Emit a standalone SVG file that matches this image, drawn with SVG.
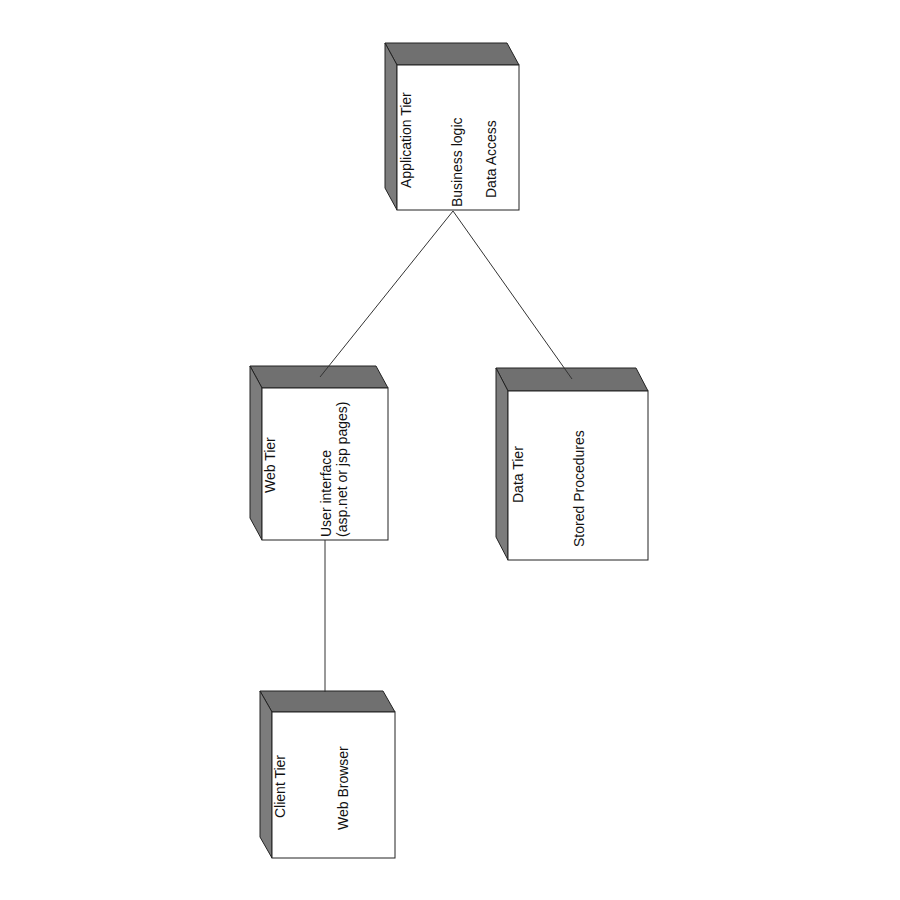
<svg xmlns="http://www.w3.org/2000/svg" width="900" height="900" viewBox="0 0 900 900">
  <style>
    .top { fill: #707070; stroke: #222; stroke-width: 1; stroke-linejoin: round; }
    .side { fill: #7c7c7c; stroke: #222; stroke-width: 1; stroke-linejoin: round; }
    .front { fill: #ffffff; stroke: #222; stroke-width: 1; }
    .lbl { font-family: "Liberation Sans", Arial, sans-serif; font-size: 14px; fill: #111; }
    .conn { stroke: #333; stroke-width: 1; fill: none; }
  </style>
  <rect width="900" height="900" fill="#ffffff"/>

  <!-- Application Tier node -->
  <g id="application-tier">
    <polygon class="top" points="385,43 507,43 519,65 397,65"/>
    <polygon class="side" points="385,43 397,65 397,210 385,188"/>
    <rect class="front" x="397" y="65" width="122" height="145"/>
    <text class="lbl" transform="translate(410.5,188) rotate(-90)">Application  Tier</text>
    <text class="lbl" transform="translate(461.5,207) rotate(-90)">Business logic</text>
    <text class="lbl" transform="translate(496,198) rotate(-90)">Data Access</text>
  </g>

  <!-- Web Tier node -->
  <g id="web-tier">
    <polygon class="top" points="250,366 376,366 388,388 262,388"/>
    <polygon class="side" points="250,366 262,388 262,540 250,518"/>
    <rect class="front" x="262" y="388" width="126" height="152"/>
    <text class="lbl" transform="translate(275,493) rotate(-90)">Web Tier</text>
    <text class="lbl" transform="translate(330.5,537) rotate(-90)">User interface</text>
    <text class="lbl" transform="translate(347,537) rotate(-90)">(asp.net or jsp pages)</text>
  </g>

  <!-- Data Tier node -->
  <g id="data-tier">
    <polygon class="top" points="496,368 636,368 648,391 508,391"/>
    <polygon class="side" points="496,368 508,391 508,560 496,537"/>
    <rect class="front" x="508" y="391" width="140" height="169"/>
    <text class="lbl" transform="translate(522.5,503) rotate(-90)">Data Tier</text>
    <text class="lbl" transform="translate(583.5,547) rotate(-90)">Stored Procedures</text>
  </g>

  <!-- Client Tier node -->
  <g id="client-tier">
    <polygon class="top" points="260,691 383,691 395,712 272,712"/>
    <polygon class="side" points="260,691 272,712 272,858 260,837"/>
    <rect class="front" x="272" y="712" width="123" height="146"/>
    <text class="lbl" transform="translate(285,818) rotate(-90)">Client  Tier</text>
    <text class="lbl" transform="translate(347.5,830) rotate(-90)">Web Browser</text>
  </g>

  <!-- connectors, drawn over the node tops -->
  <g id="connectors">
    <line class="conn" x1="453" y1="211" x2="320" y2="377"/>
    <line class="conn" x1="453" y1="211" x2="572" y2="379"/>
    <line class="conn" x1="325" y1="540" x2="325" y2="692"/>
  </g>
</svg>
